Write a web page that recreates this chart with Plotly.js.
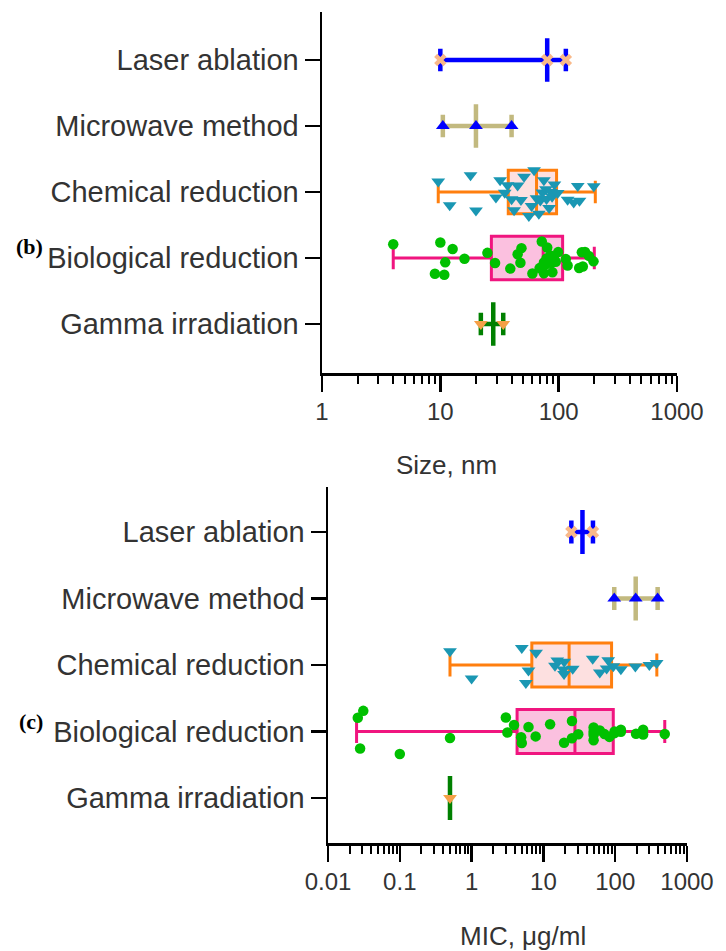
<!DOCTYPE html>
<html>
<head>
<meta charset="utf-8">
<script src="https://cdn.plot.ly/plotly-3.0.1.min.js"></script>
<style>html,body{margin:0;padding:0;background:#fff;}#chart{width:726px;height:951px;}</style>
</head>
<body>
<div id="chart"></div>
<script>
// ---------- categories (bottom to top) ----------
const categories = ['Gamma irradiation', 'Biological reduction', 'Chemical reduction', 'Microwave method', 'Laser ablation'];

// ---------- (b) Size, nm : individual values ----------
const sizeGamma = [22, 34];
const sizeBiological = [4, 9, 10, 10.8, 11, 12.7, 16, 25, 29, 39, 45, 47.5, 48.5, 60, 69, 72, 75, 75, 77, 79, 80, 85, 87, 88.5, 91, 94.5, 99, 115, 119, 149, 157, 160, 167, 180, 197];
const sizeChemical = [9.6, 12, 18, 20, 29.5, 32, 35, 37, 40, 42, 45, 48, 51, 56, 59, 62, 65, 68, 70, 73, 75, 78, 79, 83, 86, 88, 92, 98, 119, 134, 145, 150, 198];
const sizeMicrowave = [10.5, 20, 40];
const sizeLaser = [10, 80, 115];
// box statistics (order = categories)
const sizeQ1 = [28, 27, 37.5, 20, 80];
const sizeMedian = [28, 74, 65, 20, 80];
const sizeQ3 = [28, 108, 96, 20, 80];
const sizeMin = [22, 4, 9.6, 10.5, 10];
const sizeMax = [34, 200, 204, 40, 115];

// ---------- (c) MIC, µg/ml : individual values ----------
const micGamma = [0.5];
const micBiological = [0.026, 0.028, 0.031, 0.1, 0.5, 3.0, 3.15, 3.9, 4.9, 5.0, 6.2, 7.8, 12.4, 19.4, 25, 25, 30.6, 50, 50, 50, 50, 61, 71, 83, 98, 98, 120, 120, 195, 245, 245, 490];
const micChemical = [0.5, 1.0, 5.0, 5.7, 6.2, 7.9, 14.5, 15.6, 18.9, 19.4, 19.5, 25.6, 48.6, 61, 76, 80, 94, 120, 191, 299, 378];
const micMicrowave = [97, 193, 390];
const micLaser = [24.5, 49];
const micQ1 = [0.5, 4.3, 6.9, 193, 35];
const micMedian = [0.5, 27.5, 22.8, 193, 35];
const micQ3 = [0.5, 94, 89, 193, 35];
const micMin = [0.5, 0.025, 0.5, 97, 24.5];
const micMax = [0.5, 490, 380, 390, 49];

// ---------- tick labels ----------
const sizeTickVals = [1, 10, 100, 1000];
const sizeTickText = ['1', '10', '100', '1000'];
const micTickVals = [0.01, 0.1, 1, 10, 100, 1000];
const micTickText = ['0.01', '0.1', '1', '10', '100', '1000'];

// ---------- styles ----------
const styles = {
  'Gamma irradiation':    {line: '#008000', fill: 'rgba(0,0,0,0)', mColor: '#f5a047', symbol: 'triangle-down', mSize: 12, lw: 4.5, jitter: 0},
  'Biological reduction': {line: '#f0157f', fill: '#fbc0df', mColor: '#00c000', symbol: 'circle', mSize: 10.5, lw: 3, jitter: 1},
  'Chemical reduction':   {line: '#ff7f0e', fill: '#fde0e0', mColor: '#1a97b3', symbol: 'triangle-down', mSize: 12, lw: 3, jitter: 1},
  'Microwave method':     {line: '#c2b97f', fill: 'rgba(0,0,0,0)', mColor: '#0000ff', symbol: 'triangle-up', mSize: 12, lw: 4.5, jitter: 0},
  'Laser ablation':       {line: '#0000ff', fill: 'rgba(0,0,0,0)', mColor: '#f9b98a', symbol: 'x', mSize: 11, lw: 4.5, jitter: 0}
};

const traces = [];
function addPanel(xa, ya, q1, med, q3, lo, hi, pointSets) {
  categories.forEach((cat, i) => {
    const s = styles[cat];
    traces.push({
      type: 'box', orientation: 'h', xaxis: xa, yaxis: ya,
      y: [cat], q1: [q1[i]], median: [med[i]], q3: [q3[i]],
      lowerfence: [lo[i]], upperfence: [hi[i]],
      boxpoints: false, width: 0.66, whiskerwidth: 0.52,
      line: {color: s.line, width: s.lw}, fillcolor: s.fill,
      hoverinfo: 'skip', showlegend: false
    });
  });
  categories.forEach((cat, i) => {
    const s = styles[cat];
    const vals = pointSets[i];
    traces.push({
      type: 'box', orientation: 'h', xaxis: xa, yaxis: ya,
      x: vals, y: vals.map(() => cat),
      boxpoints: 'all', jitter: s.jitter, pointpos: 0, width: 0.8, whiskerwidth: 0,
      line: {color: 'rgba(0,0,0,0)', width: 0}, fillcolor: 'rgba(0,0,0,0)',
      marker: {color: s.mColor, symbol: s.symbol, size: s.mSize, line: {width: 0}},
      hoverinfo: 'skip', showlegend: false
    });
  });
}
addPanel('x', 'y', sizeQ1, sizeMedian, sizeQ3, sizeMin, sizeMax,
  [sizeGamma, sizeBiological, sizeChemical, sizeMicrowave, sizeLaser]);
addPanel('x2', 'y2', micQ1, micMedian, micQ3, micMin, micMax,
  [micGamma, micBiological, micChemical, micMicrowave, micLaser]);

const W = 726, H = 951;
const textColor = '#333333';
const font = 'Liberation Sans, Arial, sans-serif';

function xAxis(dom, range, tv, tt, anchor) {
  return {
    type: 'log', domain: dom, range: range, anchor: anchor,
    tickmode: 'array', tickvals: tv, ticktext: tt,
    ticks: 'outside', ticklen: 16, tickwidth: 2.5, tickcolor: '#000',
    showline: true, linewidth: 2.5, linecolor: '#000',
    showgrid: false, zeroline: false, automargin: false, fixedrange: true,
    tickfont: {family: font, size: 24, color: textColor},
    minor: {ticks: 'outside', ticklen: 8, tickwidth: 2, tickcolor: '#000', dtick: 'D1', showgrid: false}
  };
}
function yAxis(dom, range, anchor) {
  return {
    type: 'category', domain: dom, range: range, anchor: anchor,
    categoryorder: 'array', categoryarray: categories,
    ticks: 'outside', ticklen: 15, tickwidth: 2.5, tickcolor: '#000',
    showline: true, linewidth: 2.5, linecolor: '#000',
    showgrid: false, zeroline: false, automargin: false, fixedrange: true,
    tickfont: {family: font, size: 29, color: textColor}
  };
}

const layout = {
  width: W, height: H,
  margin: {l: 0, r: 0, t: 0, b: 0},
  paper_bgcolor: '#fff', plot_bgcolor: '#fff',
  showlegend: false, hovermode: false, boxmode: 'overlay',
  xaxis: xAxis([322 / W, 677 / W], [0, 3], sizeTickVals, sizeTickText, 'y'),
  yaxis: yAxis([(H - 373) / H, (H - 12) / H], [-0.742, 4.727], 'x'),
  xaxis2: xAxis([328 / W, 687 / W], [-2, 3], micTickVals, micTickText, 'y2'),
  yaxis2: yAxis([(H - 843) / H, (H - 487) / H], [-0.677, 4.677], 'x2'),
  annotations: [
    {text: 'Size, nm', xref: 'paper', yref: 'paper', x: 447 / W, y: 1 - 465 / H, xanchor: 'center', yanchor: 'middle', showarrow: false, font: {family: font, size: 26, color: textColor}},
    {text: 'MIC, μg/ml', xref: 'paper', yref: 'paper', x: 523 / W, y: 1 - 936 / H, xanchor: 'center', yanchor: 'middle', showarrow: false, font: {family: font, size: 26, color: textColor}},
    {text: '<b>(b)</b>', xref: 'paper', yref: 'paper', x: 29 / W, y: 1 - 247 / H, xanchor: 'center', yanchor: 'middle', showarrow: false, font: {family: 'Liberation Serif, serif', size: 22, color: '#000'}},
    {text: '<b>(c)</b>', xref: 'paper', yref: 'paper', x: 31 / W, y: 1 - 721 / H, xanchor: 'center', yanchor: 'middle', showarrow: false, font: {family: 'Liberation Serif, serif', size: 22, color: '#000'}}
  ]
};

Plotly.newPlot('chart', traces, layout, {staticPlot: true, displayModeBar: false});
</script>
</body>
</html>
